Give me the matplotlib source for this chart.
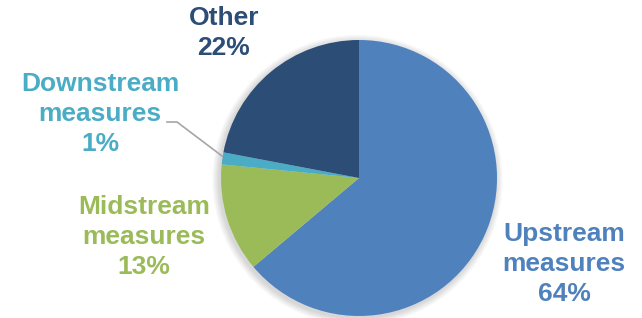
import matplotlib
matplotlib.use('Agg')
import matplotlib.pyplot as plt
from matplotlib.patches import Circle

# pie slices, clockwise from 12 o'clock
names = ['Upstream\nmeasures', 'Midstream\nmeasures', 'Downstream\nmeasures', 'Other']
values = [63.8, 12.7, 1.4, 22.0]
colors = ['#4F81BD', '#9BBB59', '#4BACC6', '#2C4D75']

W, H = 642, 318
fig = plt.figure(figsize=(W / 100, H / 100), dpi=100)
ax = fig.add_axes([0, 0, 1, 1])
ax.set_aspect('equal')

cx, cy, r = 359, H - 178, 138

# soft shadow round the pie
for i in range(8):
    ax.add_patch(Circle((cx - 1.5, cy - 2), r + 1 + i * 0.9, color='black',
                        alpha=0.018, lw=0, zorder=0))

ax.pie(values, colors=colors, startangle=90, counterclock=False,
       center=(cx, cy), radius=r, frame=True,
       wedgeprops=dict(linewidth=0))
ax.set_xlim(0, W)
ax.set_ylim(0, H)
ax.axis('off')

# label positions (pixel centres)
label_pos = [(564, 264), (144, 237), (100, 114), (224, 33)]
for name, v, c, (x, y) in zip(names, values, colors, label_pos):
    ax.text(x, H - y, '{}\n{:.0f}%'.format(name, v), color=c, ha='center', va='center',
            fontsize=19, fontweight='bold', family='Liberation Sans', linespacing=1.32)

# leader for downstream
ax.plot([167, 177, 222], [H - 122, H - 122, H - 156], color='#A6A6A6', lw=1.2)

plt.savefig('out.png', dpi=100)
